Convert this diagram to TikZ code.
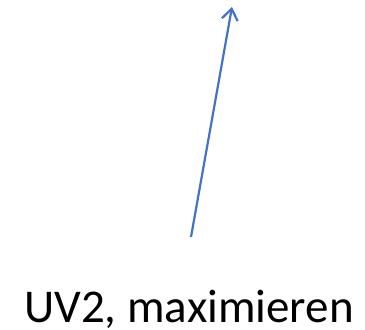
\documentclass[tikz,border=0pt]{standalone}
\usepackage{fontspec}
\setmainfont{Carlito}
\usetikzlibrary{arrows.meta}
\definecolor{arrowblue}{HTML}{4472C4}
\begin{document}
\begin{tikzpicture}[x=1pt,y=-1pt,
  conn/.style={draw=arrowblue,line width=2.2pt,-{Straight Barb[length=11pt,width=16pt,line width=2.2pt]}},
  label/.style={font=\fontsize{47}{52}\selectfont,inner sep=0pt,anchor=base}]
\useasboundingbox (0,0) rectangle (365,330);
\coordinate (start) at (191,237);
\coordinate (tip) at (232,7);
\draw[conn] (start) -- (tip);
\node[label] (txt) at (189,322) {UV2, maximieren};
\end{tikzpicture}
\end{document}
